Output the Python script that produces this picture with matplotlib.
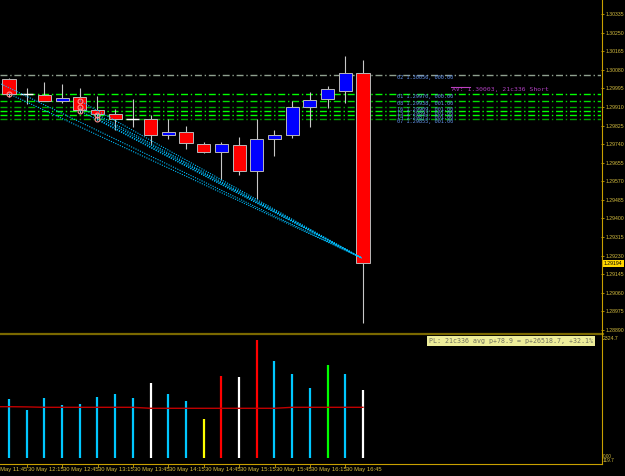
import matplotlib
matplotlib.use('Agg')
from matplotlib import pyplot as plt
from matplotlib.patches import Rectangle
from matplotlib.lines import Line2D

## DATA ##
# 15 minute bars, 30 May 12:00 .. 17:00
opens  = [1.30038, 1.29969, 1.29965, 1.29937, 1.29956, 1.29896, 1.29878, 1.29855, 1.29855, 1.29782, 1.29795,
          1.29741, 1.29704, 1.29736, 1.29617, 1.29763, 1.29782, 1.29910, 1.29946, 1.29983, 1.30065]
highs  = [1.30040, 1.29997, 1.30024, 1.30015, 1.29997, 1.29960, 1.29901, 1.29946, 1.29873, 1.29855, 1.29823,
          1.29750, 1.29750, 1.29773, 1.29855, 1.29805, 1.29937, 1.29978, 1.30006, 1.30143, 1.30125]
lows   = [1.29956, 1.29924, 1.29937, 1.29928, 1.29882, 1.29850, 1.29805, 1.29818, 1.29736, 1.29763, 1.29718,
          1.29699, 1.29576, 1.29599, 1.29489, 1.29686, 1.29768, 1.29818, 1.29905, 1.29928, 1.28922]
closes = [1.29969, 1.29969, 1.29937, 1.29951, 1.29896, 1.29878, 1.29855, 1.29855, 1.29782, 1.29795, 1.29745,
          1.29704, 1.29741, 1.29617, 1.29763, 1.29782, 1.29910, 1.29942, 1.29992, 1.30065, 1.29194]

vols = [1143, 930, 1162, 1027, 1040, 1182, 1234, 1156, 1453, 1234, 1110,
        755, 1588, 1569, 2286, 1879, 1621, 1350, 1801, 1633, 1311]
vol_colors = ['#00c8ff'] * 8 + ['white', '#00c8ff', '#00c8ff', '#ffff00', '#ff0000', 'white', '#ff0000',
              '#00c8ff', '#00c8ff', '#00c8ff', '#00ff00', '#00c8ff', 'white']
vol_ma = [994, 990, 982, 982, 982, 982, 982, 982, 963, 963, 963,
          963, 963, 963, 963, 963, 982, 982, 982, 982, 982]

price_ticks = [1.28890, 1.28975, 1.29060, 1.29145, 1.29230, 1.29315, 1.29400, 1.29485, 1.29570,
               1.29655, 1.29740, 1.29825, 1.29910, 1.29995, 1.30080, 1.30165, 1.30250, 1.30335]
time_labels = ['30 May 11:45', '30 May 12:15', '30 May 12:45', '30 May 13:15', '30 May 13:45', '30 May 14:15',
               '30 May 14:45', '30 May 15:15', '30 May 15:45', '30 May 16:15', '30 May 16:45']
time_pos = [-1, 1, 3, 5, 7, 9, 11, 13, 15, 17, 19]

# open orders: name, price, bar of entry
order_names  = ['02', '01', '08', '16', '15', '14', '07']
order_prices = [1.30056, 1.29970, 1.29938, 1.29909, 1.29893, 1.29875, 1.29855]
order_lots   = ['000.00', '000.00', '001.00', '001.00', '001.00', '001.00', '001.00']
order_bars   = [-1.5, 0, 4, 4, 4, 5, 5]
order_colors = ['#8fa08f', '#00ff00', '#00e000', '#00a800', '#00ff00', '#00ff00', '#00a000']
exit_bar, exit_price = 19.93, 1.29219
avg_price = 1.30003
current = 1.29194
pl_text = 'PL: 21c336 avg p+78.9 = p+26518.7, +32.1%'

## LAYOUT ##
W, H = 625, 476
GOLD = '#c8a000'
TXT = '#d8c040'
SMALL = 'Liberation Sans'
fig = plt.figure(figsize=(W / 100, H / 100), dpi=100, facecolor='black')
ax = fig.add_axes([0, 1 - 333 / H, 601 / W, 333 / H], facecolor='black')
axv = fig.add_axes([0, 1 - 463 / H, 601 / W, 128 / H], facecolor='black')

xlim = (-0.508, 33.45)
for a in (ax, axv):
    a.set_xlim(*xlim)
    for s in a.spines.values():
        s.set_visible(False)
    a.set_xticks([])

ax.set_ylim(1.28876, 1.30399)
axv.set_ylim(-97, 2383)
axv.set_yticks([])

# price axis
ax.yaxis.tick_right()
ax.set_yticks(price_ticks)
ax.set_yticklabels(['%.5f' % p for p in price_ticks], family=SMALL)
ax.tick_params(axis='y', colors=GOLD, labelcolor=TXT, labelsize=3.7, length=2, width=0.6, pad=1.2)

# candles
for i, (o, h, l, c) in enumerate(zip(opens, highs, lows, closes)):
    ax.vlines(i, l, h, color='#c8c8c8', lw=0.8, zorder=2)
    if c == o:
        ax.hlines(o, i - 0.37, i + 0.37, color='white', lw=1.0, zorder=3)
    else:
        col = '#0000ff' if c > o else '#ff0000'
        ax.add_patch(Rectangle((i - 0.37, min(o, c)), 0.74, abs(c - o), facecolor=col,
                               edgecolor='#b8b8b8', lw=0.7, zorder=3))

# order lines, labels and trade paths
for name, p, lot, b, col in zip(order_names, order_prices, order_lots, order_bars, order_colors):
    ax.axhline(p, color=col, lw=1.0, ls=(0, (5, 2, 1, 2)), zorder=1)
    ax.text(21.92, p, '%s %.5f, %s' % (name, p, lot), color='#6495ed', fontsize=3.8,
            family='DejaVu Sans Mono', va='top', ha='left', zorder=5)
    ax.plot([b, exit_bar], [p, exit_price], color='#00bfff', lw=0.8, ls=(0, (1, 1.2)), zorder=4)
    if b >= 0:
        ax.plot(b, p, 'o', ms=3.5, mfc='none', mec='#ff9090', mew=0.8, zorder=6)

ax.plot([25.0, 26.05], [avg_price, avg_price], color='#c040c0', lw=0.8, zorder=5)
ax.text(25.05, avg_price - 0.00002, 'AV: %.5f, 21c336 Short' % avg_price, color='#b040c0',
        fontsize=4.6, family='DejaVu Sans Mono', va='top', ha='left', zorder=5)

# volume panel
axv.vlines(range(len(vols)), 0, vols, colors=vol_colors, lw=1.6, zorder=2)
axv.plot([-0.6] + list(range(len(vol_ma))), [vol_ma[0]] + vol_ma, color='#c00000', lw=1.0, zorder=3)

## FRAME ##
def px_line(x0, y0, x1, y1, color, lw):
    fig.add_artist(Line2D([x0 / W, x1 / W], [1 - y0 / H, 1 - y1 / H], color=color, lw=lw,
                          transform=fig.transFigure))

px_line(0, 333.5, 603, 333.5, '#7a6800', 1.6)
px_line(601.5, 0, 601.5, 463.5, GOLD, 0.8)
px_line(0, 463.5, 601.5, 463.5, GOLD, 0.8)

for lab, b in zip(time_labels, time_pos):
    x = 9 + 17.7 * b
    px_line(x, 463.5, x, 467, GOLD, 0.6)
    fig.text((x + 1) / W, 1 - 469.5 / H, lab, color=TXT, fontsize=4.2, family=SMALL,
             va='center', ha='left')

fig.text(603 / W, 1 - 338 / H, '2324.7', color=TXT, fontsize=3.7, family=SMALL, va='center', ha='left')
fig.text(603 / W, 1 - 457 / H, '0.00', color=TXT, fontsize=3.4, family=SMALL, va='center', ha='left')
fig.text(603 / W, 1 - 461 / H, '119.7', color=TXT, fontsize=3.4, family=SMALL, va='center', ha='left')

fig.text(604 / W, 1 - 263.5 / H, '%.5f' % current, color='black', fontsize=3.7, family=SMALL,
         va='center', ha='left', bbox=dict(boxstyle='square,pad=0.25', fc='#ffd700', ec='none'))

fig.text(429 / W, 1 - 340.5 / H, pl_text, color='#707060', fontsize=4.8, family='DejaVu Sans Mono',
         va='center', ha='left', bbox=dict(boxstyle='square,pad=0.3', fc='#eeee9a', ec='none'))

plt.savefig('out.png', dpi=100, facecolor='black')
